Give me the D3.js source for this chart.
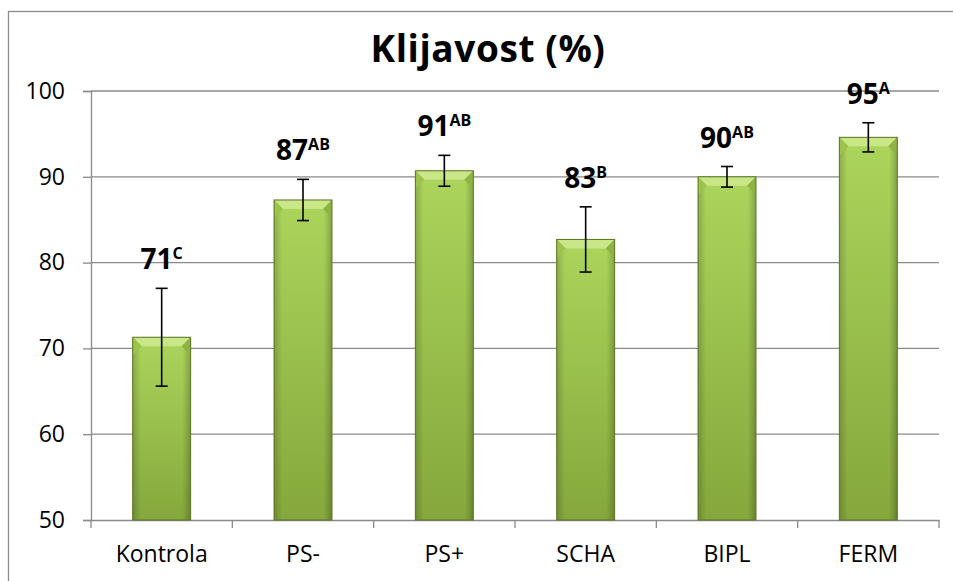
<!DOCTYPE html>
<html>

<head>
    <meta charset="UTF-8">
    <style>
        body { margin: 0; background: #fff; }
        text { font-family: "Open Sans", Lato, sans-serif; }
    </style>
</head>

<body>
    <script src="https://d3js.org/d3.v7.min.js"></script>
    <div id="chart"></div>
    <script>
        // data
        const categories = ["Kontrola", "PS-", "PS+", "SCHA", "BIPL", "FERM"];
        const means = [71.3, 87.3, 90.7, 82.7, 90.0, 94.6];
        const errors = [5.7, 2.4, 1.8, 3.8, 1.2, 1.7];
        const valueLabels = ["71", "87", "91", "83", "90", "95"];
        const letters = ["C", "AB", "AB", "B", "AB", "A"];
        const yTicks = [50, 60, 70, 80, 90, 100];

        const W = 953, H = 581;
        const margin = { top: 91, right: 14, bottom: 61, left: 91 },
            width = W - margin.left - margin.right,
            height = H - margin.top - margin.bottom;

        const root = d3.select("#chart")
            .append("svg")
            .attr("width", W)
            .attr("height", H);

        // gradients for the bevelled bars
        const defs = root.append("defs");
        const gv = defs.append("linearGradient").attr("id", "barV")
            .attr("x1", 0).attr("y1", 0).attr("x2", 0).attr("y2", 1);
        gv.append("stop").attr("offset", "0%").attr("stop-color", "#acd55c");
        gv.append("stop").attr("offset", "100%").attr("stop-color", "#85a73c");
        const gh = defs.append("linearGradient").attr("id", "barH")
            .attr("x1", 0).attr("y1", 0).attr("x2", 1).attr("y2", 0);
        gh.append("stop").attr("offset", "0%").attr("stop-color", "#000").attr("stop-opacity", 0.18);
        gh.append("stop").attr("offset", "14%").attr("stop-color", "#000").attr("stop-opacity", 0);
        gh.append("stop").attr("offset", "86%").attr("stop-color", "#000").attr("stop-opacity", 0);
        gh.append("stop").attr("offset", "100%").attr("stop-color", "#000").attr("stop-opacity", 0.22);

        // outer frame
        root.append("rect")
            .attr("x", 8.5).attr("y", 11.5)
            .attr("width", 980).attr("height", 620)
            .attr("fill", "none")
            .attr("stroke", "#8c8c8c")
            .attr("stroke-width", 1.3);

        // title
        root.append("text")
            .attr("x", 488).attr("y", 62)
            .attr("text-anchor", "middle")
            .attr("font-size", 37)
            .attr("font-weight", "bold")
            .attr("letter-spacing", 0.6)
            .text("Klijavost (%)");

        const svg = root.append("g")
            .attr("transform", `translate(${margin.left}, ${margin.top})`);

        const x = d3.scaleBand()
            .domain(categories)
            .range([0, width])
            .paddingInner(0.59)
            .paddingOuter(0.295);

        const y = d3.scaleLinear()
            .domain([50, 100])
            .range([height, 0]);

        // gridlines
        svg.append("g")
            .selectAll("line")
            .data(yTicks.slice(1))
            .enter()
            .append("line")
            .attr("x1", 0).attr("x2", width)
            .attr("y1", d => y(d)).attr("y2", d => y(d))
            .attr("stroke", "#8a8a8a")
            .attr("stroke-width", 1.3);

        // Y axis
        const yAxis = svg.append("g")
            .call(d3.axisLeft(y).tickValues(yTicks).tickSize(8).tickPadding(18));
        yAxis.select(".domain").attr("stroke", "#8a8a8a").attr("stroke-width", 1.3);
        yAxis.selectAll(".tick line").attr("stroke", "#8a8a8a").attr("stroke-width", 1.3);
        yAxis.selectAll("text")
            .attr("font-size", 23)
            .attr("fill", "#000")
            .style("font-family", "'Open Sans', sans-serif");

        // X axis
        const xAxis = svg.append("g")
            .attr("transform", `translate(0, ${height})`)
            .call(d3.axisBottom(x).tickSize(0).tickPadding(26));
        xAxis.select(".domain").attr("stroke", "#8a8a8a").attr("stroke-width", 1.3);
        xAxis.selectAll("text")
            .attr("font-size", 23)
            .attr("fill", "#000")
            .style("font-family", "'Open Sans', sans-serif");
        // ticks between categories
        xAxis.selectAll(".sep")
            .data(d3.range(categories.length + 1))
            .enter()
            .append("line")
            .attr("class", "sep")
            .attr("x1", i => i * x.step()).attr("x2", i => i * x.step())
            .attr("y1", 0).attr("y2", 8)
            .attr("stroke", "#8a8a8a")
            .attr("stroke-width", 1.3);

        // bars
        const bars = svg.selectAll(".bar")
            .data(categories)
            .enter()
            .append("g")
            .attr("class", "bar");

        bars.append("rect")
            .attr("x", d => x(d))
            .attr("y", (d, i) => y(means[i]))
            .attr("width", x.bandwidth())
            .attr("height", (d, i) => height - y(means[i]))
            .attr("fill", "url(#barV)");

        bars.append("rect")
            .attr("x", d => x(d))
            .attr("y", (d, i) => y(means[i]))
            .attr("width", x.bandwidth())
            .attr("height", (d, i) => height - y(means[i]))
            .attr("fill", "url(#barH)");

        // top bevel
        const bev = 9;
        bars.append("polygon")
            .attr("points", (d, i) => {
                const x0 = x(d), x1 = x(d) + x.bandwidth(), t = y(means[i]);
                return [[x0, t], [x1, t], [x1 - bev, t + bev], [x0 + bev, t + bev]].join(" ");
            })
            .attr("fill", "#c9e787");
        bars.append("polygon")
            .attr("points", (d, i) => {
                const x0 = x(d), t = y(means[i]);
                return [[x0, t], [x0 + bev, t + bev], [x0, t + bev * 2]].join(" ");
            })
            .attr("fill", "#9cc44d");
        bars.append("polygon")
            .attr("points", (d, i) => {
                const x1 = x(d) + x.bandwidth(), t = y(means[i]);
                return [[x1, t], [x1 - bev, t + bev], [x1, t + bev * 2]].join(" ");
            })
            .attr("fill", "#8fb343");

        bars.append("rect")
            .attr("x", d => x(d))
            .attr("y", (d, i) => y(means[i]))
            .attr("width", x.bandwidth())
            .attr("height", (d, i) => height - y(means[i]))
            .attr("fill", "none")
            .attr("stroke", "#5b7326")
            .attr("stroke-width", 1);

        // error bars
        const cap = 6;
        const cx = d => x(d) + x.bandwidth() / 2;
        bars.append("line")
            .attr("x1", cx).attr("x2", cx)
            .attr("y1", (d, i) => y(means[i] + errors[i]))
            .attr("y2", (d, i) => y(means[i] - errors[i]))
            .attr("stroke", "#000").attr("stroke-width", 1.6);
        bars.append("line")
            .attr("x1", d => cx(d) - cap).attr("x2", d => cx(d) + cap)
            .attr("y1", (d, i) => y(means[i] + errors[i]))
            .attr("y2", (d, i) => y(means[i] + errors[i]))
            .attr("stroke", "#000").attr("stroke-width", 1.6);
        bars.append("line")
            .attr("x1", d => cx(d) - cap).attr("x2", d => cx(d) + cap)
            .attr("y1", (d, i) => y(means[i] - errors[i]))
            .attr("y2", (d, i) => y(means[i] - errors[i]))
            .attr("stroke", "#000").attr("stroke-width", 1.6);

        // value labels with letters as superscript
        const lab = bars.append("text")
            .attr("x", cx)
            .attr("y", (d, i) => y(means[i] + errors[i]) - 19)
            .attr("text-anchor", "middle")
            .attr("font-weight", "bold");
        lab.append("tspan")
            .attr("font-size", 28)
            .text((d, i) => valueLabels[i]);
        lab.append("tspan")
            .attr("font-size", 16)
            .attr("dy", -10)
            .text((d, i) => letters[i]);
    </script>
</body>

</html>
